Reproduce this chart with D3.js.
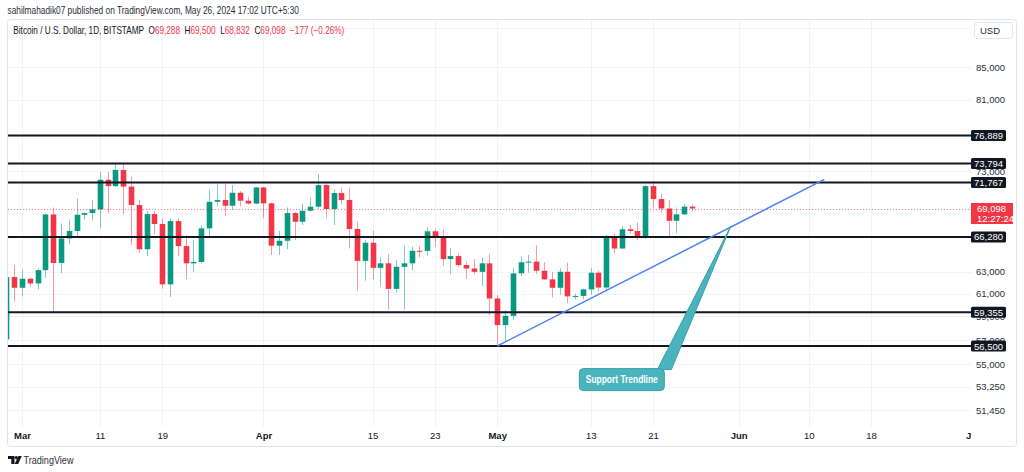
<!DOCTYPE html>
<html><head><meta charset="utf-8">
<script src="https://cdn.jsdelivr.net/npm/d3@7"></script>
<style>
html,body{margin:0;padding:0;background:#fff;}
svg{display:block;font-family:"Liberation Sans Narrow","Liberation Sans",Arial,sans-serif;}
</style></head><body>
<svg id="c" width="1024" height="472"></svg>
<script>
// ---------------- data ----------------
const dates = ["2024-02-28","2024-02-29",
"2024-03-01","2024-03-02","2024-03-03","2024-03-04","2024-03-05","2024-03-06","2024-03-07","2024-03-08","2024-03-09","2024-03-10",
"2024-03-11","2024-03-12","2024-03-13","2024-03-14","2024-03-15","2024-03-16","2024-03-17","2024-03-18","2024-03-19","2024-03-20",
"2024-03-21","2024-03-22","2024-03-23","2024-03-24","2024-03-25","2024-03-26","2024-03-27","2024-03-28","2024-03-29","2024-03-30","2024-03-31",
"2024-04-01","2024-04-02","2024-04-03","2024-04-04","2024-04-05","2024-04-06","2024-04-07","2024-04-08","2024-04-09","2024-04-10",
"2024-04-11","2024-04-12","2024-04-13","2024-04-14","2024-04-15","2024-04-16","2024-04-17","2024-04-18","2024-04-19","2024-04-20",
"2024-04-21","2024-04-22","2024-04-23","2024-04-24","2024-04-25","2024-04-26","2024-04-27","2024-04-28","2024-04-29","2024-04-30",
"2024-05-01","2024-05-02","2024-05-03","2024-05-04","2024-05-05","2024-05-06","2024-05-07","2024-05-08","2024-05-09","2024-05-10",
"2024-05-11","2024-05-12","2024-05-13","2024-05-14","2024-05-15","2024-05-16","2024-05-17","2024-05-18","2024-05-19","2024-05-20",
"2024-05-21","2024-05-22","2024-05-23","2024-05-24","2024-05-25","2024-05-26"];
const opens = [57050,62500,
61530,62350,61920,63140,68500,63800,66140,66860,68470,68640,
69010,72070,71400,73100,71350,69450,65100,68540,67550,61840,
67840,65400,63770,63900,67120,69780,69960,69380,70710,69890,69600,
71260,69620,65440,65910,68640,67770,68870,69280,71510,69050,
70680,69960,67060,64000,65720,63350,63770,61430,63450,63770,
64950,64940,66830,66240,64170,64450,63610,63290,62980,63770,
60570,58260,59050,62840,63870,63930,63080,62290,61530,62990,
60760,60800,61380,62900,61550,66240,65170,67030,66860,66200,
71400,70060,69100,67870,68510,69288];
const highs = [63900,63610,
63200,62450,63300,68600,69200,67600,68000,70130,68700,69960,
72920,72920,73740,73800,72400,70000,68840,68840,68100,68100,
68100,66470,66000,67400,71060,71580,71680,71500,70890,70300,71300,
71300,69700,66860,69210,68750,69620,70230,72680,71700,71060,
71260,71260,67870,65980,66890,64330,64640,64080,65440,65350,
65400,67250,67100,67000,65200,64700,63900,64170,64300,64610,
60900,59550,63300,64390,64550,65500,63900,62950,63300,63830,
61000,61450,63350,63100,66470,66600,67350,67450,67710,71500,
71900,70600,69960,69210,69550,69500];
const lows = [56700,60280,
60760,61620,61380,62400,59300,62840,65600,66240,68000,67870,
67150,68610,71300,68500,65500,64740,64450,66540,61470,60720,
64450,62290,63000,63770,66370,69300,68370,68940,69300,69500,69550,
68100,64550,64550,65110,65980,67450,68800,69050,68160,67450,
69600,65170,61260,62160,62290,61620,59610,61100,59610,63140,
64330,64500,65350,63540,62780,63400,62350,62780,61680,59120,
56500,56850,58700,62600,62900,62800,62230,60670,60900,60140,
60490,60500,60900,61200,61300,64700,65100,66600,65980,66100,
69210,68700,66370,66630,68450,68832];
const closes = [62500,61530,
62350,61920,63140,68500,63800,66140,66860,68470,68640,69010,
72070,71400,73100,71350,69450,65100,68540,67550,61840,67840,
65400,63770,63900,67120,69780,69960,69380,70710,69890,69600,71260,
69620,65440,65910,68640,67770,68870,69280,71510,69050,70680,
69960,67060,64000,65720,63350,63770,61430,63450,63770,64950,
64940,66830,66240,64170,64450,63610,63290,62980,63770,60570,
58260,59050,62840,63870,63930,63080,62290,61530,62990,60760,
60800,61380,62900,61550,66240,65170,67030,66860,66200,71400,
70060,69100,67870,68510,69288,69098];

const levels = [76889, 73794, 71767, 66280, 59355, 56500];
const levelLabels = ["76,889","73,794","71,767","66,280","59,355","56,500"];
const gridPrices = [90000, 85000, 81000, 77000, 73000, 69000, 63000, 61000, 59000, 57000, 55000, 53250, 51450];
const priceTickLabels = [85000, 81000, 73000, 63000, 61000, 59000, 57000, 55000, 53250, 51450];
const timeTickDates = ["2024-03-01","2024-03-11","2024-03-19","2024-04-01","2024-04-15","2024-04-23","2024-05-01","2024-05-13","2024-05-21","2024-06-01","2024-06-10","2024-06-18","2024-07-01"];
const timeTickLabels = ["Mar","11","19","Apr","15","23","May","13","21","Jun","10","18","Jul"];
const monthTicks = ["Mar","Apr","May","Jun","Jul"];
const trendDates = ["2024-05-01","2024-06-12"];
const trendPrices = [56500, 72100];
const lastPrice = 69098;
const countdown = "12:27:24";
const calloutText = "Support Trendline";
const calloutTip = {date:"2024-05-31", price:67350};
const calloutBox = {date:"2024-05-17", price:53790};
const symbolTitle = "Bitcoin / U.S. Dollar, 1D, BITSTAMP";
const ohlcLabels = ["O","H","L","C"];
const ohlcValues = ["69,288","69,500","68,832","69,098"];
const changeLabel = "\u2212177 (\u22120.26%)";

// ---------------- chart ----------------
const svg = d3.select("#c");
const parse = d3.utcParse("%Y-%m-%d");
const UP = "#089981", DOWN = "#f23645", INK = "#131722";
const paneL = 8, paneR = 971, paneT = 20, paneB = 427;

const x = d3.scaleUtc().domain([parse("2024-03-01"), parse("2024-05-26")]).range([22, 22 + 86*7.79]);
const y = d3.scaleLog().domain([85000, 51450]).range([67, 410]);

// fit a text element horizontally to a target width (narrow look)
function fitX(sel, x0, y0, w) {
  const nat = sel.node().getComputedTextLength();
  const k = Math.min(1, w / nat);
  sel.attr("x", 0).attr("y", 0).attr("transform", `translate(${x0},${y0}) scale(${k},1)`);
}

// header
const pub = svg.append("text").attr("font-size", 10).attr("fill", "#2a2e39")
  .text("sahilmahadik07 published on TradingView.com, May 26, 2024 17:02 UTC+5:30");
fitX(pub, 7.5, 13.5, 292);

// outer border
svg.append("rect").attr("x", 7.5).attr("y", 19.5).attr("width", 1009).attr("height", 427)
  .attr("rx", 3).attr("fill", "none").attr("stroke", "#e0e3eb");

const defs = svg.append("defs");
defs.append("clipPath").attr("id", "pane").append("rect")
  .attr("x", paneL).attr("y", paneT).attr("width", paneR - paneL).attr("height", paneB - paneT);
defs.append("clipPath").attr("id", "taxis").append("rect")
  .attr("x", paneL).attr("y", paneB).attr("width", paneR - paneL).attr("height", 20);

const pane = svg.append("g").attr("clip-path", "url(#pane)");

// grid
pane.append("g").selectAll("line").data(timeTickDates).join("line")
  .attr("x1", d => Math.round(x(parse(d))) + 0.5).attr("x2", d => Math.round(x(parse(d))) + 0.5)
  .attr("y1", paneT).attr("y2", paneB).attr("stroke", "#f0f3fa");
pane.append("g").selectAll("line").data(gridPrices).join("line")
  .attr("x1", paneL).attr("x2", paneR)
  .attr("y1", d => Math.round(y(d)) + 0.5).attr("y2", d => Math.round(y(d)) + 0.5).attr("stroke", "#f0f3fa");

// candles
const bars = dates.map((d, i) => ({date: parse(d), o: opens[i], h: highs[i], l: lows[i], c: closes[i]}));
const bw = 5.6;
const cg = pane.append("g");
cg.selectAll("line").data(bars).join("line")
  .attr("x1", d => Math.round(x(d.date)) + 0.5).attr("x2", d => Math.round(x(d.date)) + 0.5)
  .attr("y1", d => y(d.h)).attr("y2", d => y(d.l))
  .attr("stroke", d => d.c >= d.o ? UP : DOWN).attr("stroke-opacity", 0.5).attr("stroke-width", 1);
cg.selectAll("rect").data(bars).join("rect")
  .attr("x", d => Math.round(x(d.date)) + 0.5 - bw/2).attr("width", bw)
  .attr("y", d => y(Math.max(d.o, d.c)))
  .attr("height", d => Math.max(1, y(Math.min(d.o, d.c)) - y(Math.max(d.o, d.c))))
  .attr("fill", d => d.c >= d.o ? UP : DOWN);

// last price dotted line
pane.append("line").attr("x1", paneL).attr("x2", paneR)
  .attr("y1", Math.round(y(lastPrice)) + 0.5).attr("y2", Math.round(y(lastPrice)) + 0.5)
  .attr("stroke", DOWN).attr("stroke-opacity", 0.6).attr("stroke-dasharray", "1,2");

// horizontal levels
pane.append("g").selectAll("line").data(levels).join("line")
  .attr("x1", paneL).attr("x2", paneR)
  .attr("y1", d => y(d)).attr("y2", d => y(d))
  .attr("stroke", INK).attr("stroke-width", 2);

// trendline
pane.append("line")
  .attr("x1", x(parse(trendDates[0]))).attr("y1", y(trendPrices[0]))
  .attr("x2", x(parse(trendDates[1]))).attr("y2", y(trendPrices[1]))
  .attr("stroke", "#4f80f2").attr("stroke-width", 1.5);

// callout
const tipX = x(parse(calloutTip.date)), tipY = y(calloutTip.price);
const bcx = x(parse(calloutBox.date)), bcy = y(calloutBox.price);
const bwid = 85, bht = 22;
const cfill = "#4ab4be", cstroke = "#3a9fa9";
pane.append("path")
  .attr("d", `M${bcx + bwid/2 - 7},${bcy - bht/2 + 1} L${tipX},${tipY} L${bcx + bwid/2 + 7},${bcy - bht/2 + 1} Z`)
  .attr("fill", cfill).attr("stroke", cstroke).attr("stroke-width", 1);
pane.append("rect").attr("x", bcx - bwid/2).attr("y", bcy - bht/2).attr("width", bwid).attr("height", bht)
  .attr("rx", 4).attr("fill", cfill).attr("stroke", cstroke);
const ct = pane.append("text").attr("font-size", 10).attr("font-weight", "bold").attr("fill", "#fff").text(calloutText);
fitX(ct, bcx - 36, bcy + 3.5, 72);

// price axis
const yAxis = d3.axisRight(y).tickValues(priceTickLabels).tickFormat(d3.format(",")).tickSize(0).tickPadding(0);
const ya = svg.append("g").attr("transform", `translate(976,0)`).call(yAxis);
ya.select(".domain").remove();
ya.selectAll("text").attr("font-size", 9.5).attr("fill", "#2a2e39")
  .attr("font-family", "'Liberation Sans Narrow','Liberation Sans',Arial,sans-serif");

// level labels
const lg = svg.append("g").selectAll("g").data(levels).join("g")
  .attr("transform", d => `translate(971,${y(d)})`);
lg.append("rect").attr("x", 0).attr("y", -5.5).attr("width", 35).attr("height", 11).attr("rx", 1.5).attr("fill", INK);
lg.append("text").attr("x", 17.5).attr("y", 3.5).attr("text-anchor", "middle").attr("font-size", 9.5)
  .attr("fill", "#fff").text((d, i) => levelLabels[i]);

// last price label
const lp = svg.append("g").attr("transform", `translate(971,${y(lastPrice)})`);
lp.append("rect").attr("x", 0).attr("y", -5.5).attr("width", 42).attr("height", 21).attr("fill", DOWN);
lp.append("text").attr("x", 6).attr("y", 3.5).attr("font-size", 9.5).attr("fill", "#fff").text(d3.format(",")(lastPrice));
lp.append("text").attr("x", 6).attr("y", 13.5).attr("font-size", 9.5).attr("fill", "#fff").text(countdown);

// USD box
svg.append("rect").attr("x", 974.5).attr("y", 22.5).attr("width", 38).attr("height", 16).attr("rx", 3)
  .attr("fill", "#fff").attr("stroke", "#e0e3eb");
svg.append("text").attr("x", 980).attr("y", 34).attr("font-size", 9.5).attr("fill", "#2a2e39").text("USD");

// time axis
const xAxis = d3.axisBottom(x).tickValues(timeTickDates.map(parse))
  .tickFormat((d, i) => timeTickLabels[i]).tickSize(0).tickPadding(0);
const xa = svg.append("g").attr("clip-path", "url(#taxis)").append("g")
  .attr("transform", `translate(0,432)`).call(xAxis);
xa.select(".domain").remove();
xa.selectAll("text").attr("font-size", 9.5).attr("fill", INK)
  .attr("font-weight", (d, i) => monthTicks.includes(timeTickLabels[i]) ? "bold" : "normal")
  .attr("font-family", "'Liberation Sans Narrow','Liberation Sans',Arial,sans-serif");

// symbol header: one flowing text, compressed horizontally
const hdr = svg.append("text").attr("font-size", 10).attr("xml:space", "preserve");
hdr.append("tspan").attr("fill", INK).text(symbolTitle + "  ");
ohlcLabels.forEach((lab, i) => {
  hdr.append("tspan").attr("fill", INK).text(lab);
  hdr.append("tspan").attr("fill", DOWN).text(ohlcValues[i] + "  ");
});
hdr.append("tspan").attr("fill", DOWN).text(changeLabel);
fitX(hdr, 13.3, 34, 331.5);

// TradingView logo
const logo = svg.append("g").attr("fill", INK);
logo.append("path").attr("d", "M8,456 h6.5 v8 h-3.2 v-5 h-3.3 Z");
logo.append("circle").attr("cx", 16.3).attr("cy", 457.6).attr("r", 1.6);
logo.append("path").attr("d", "M18.3,456 h3.5 l-3.6,8 h-3.5 Z");
const tvt = svg.append("text").attr("font-size", 10).attr("fill", "#2a2e39").text("TradingView");
fitX(tvt, 23.5, 464, 50);
</script>
</body></html>
